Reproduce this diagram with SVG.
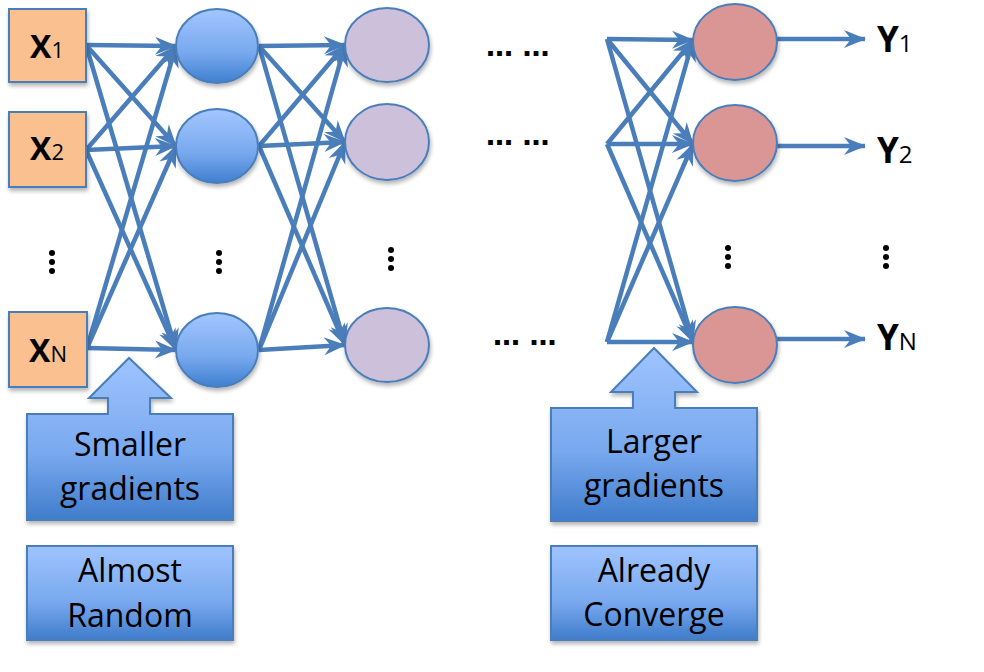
<svg xmlns="http://www.w3.org/2000/svg" width="984" height="672" viewBox="0 0 984 672">
<defs>
<linearGradient id="gBlue" x1="0" y1="0" x2="0" y2="1">
<stop offset="0" stop-color="#a3c6ff"/><stop offset="0.6" stop-color="#77a8ee"/><stop offset="1" stop-color="#3f7fcf"/>
</linearGradient>
<linearGradient id="gBox" x1="0" y1="0" x2="0" y2="1">
<stop offset="0" stop-color="#9fc4ff"/><stop offset="0.6" stop-color="#78a8ee"/><stop offset="1" stop-color="#3f7ccb"/>
</linearGradient>
<filter id="sh" x="-10%" y="-10%" width="130%" height="130%">
<feGaussianBlur in="SourceAlpha" stdDeviation="2"/><feOffset dx="1" dy="3"/>
<feComponentTransfer><feFuncA type="linear" slope="0.3"/></feComponentTransfer>
<feMerge><feMergeNode/><feMergeNode in="SourceGraphic"/></feMerge>
</filter>
<marker id="arr" viewBox="0 0 24 20" markerUnits="userSpaceOnUse" markerWidth="24" markerHeight="20" refX="21" refY="10" orient="auto" overflow="visible">
<path d="M0,1 L22,10 L0,19 L7,10 Z" fill="#4a7ebb"/>
</marker>
</defs>
<style>
.box{stroke:#4a7ebb;stroke-width:2;}
.in{fill:#fac090;}
.h1{fill:url(#gBlue);}
.h2{fill:#ccc0da;}
.h3{fill:#d99694;}
.lbl{font-family:"Open Sans","Liberation Sans",sans-serif;font-weight:bold;fill:#000;}
.sub{font-weight:normal;}
.t{font-family:"Open Sans","Liberation Sans",sans-serif;font-size:32px;fill:#000;text-anchor:middle;}
.dots{font-family:"DejaVu Sans",sans-serif;font-weight:bold;font-size:27px;fill:#000;}
.vd{fill:#000;}
</style>

<g id="connectors" fill="none" stroke="#4a7ebb" stroke-width="4.5" marker-end="url(#arr)">
<path d="M86,45 L176,46"/>
<path d="M86,45 L176,146"/>
<path d="M86,45 L176,350"/>
<path d="M86,150 L176,46"/>
<path d="M86,150 L176,146"/>
<path d="M86,150 L176,350"/>
<path d="M87,348 L176,46"/>
<path d="M87,348 L176,146"/>
<path d="M87,348 L176,350"/>

<path d="M259,46 L345,45"/>
<path d="M259,46 L345,142"/>
<path d="M259,46 L345,345"/>
<path d="M259,146 L345,45"/>
<path d="M259,146 L345,142"/>
<path d="M259,146 L345,345"/>
<path d="M259,350 L345,45"/>
<path d="M259,350 L345,142"/>
<path d="M259,350 L345,345"/>

<path d="M607,39 L693,40"/>
<path d="M607,39 L693,144"/>
<path d="M607,39 L693,342"/>
<path d="M607,144 L693,40"/>
<path d="M607,144 L693,144"/>
<path d="M607,144 L693,342"/>
<path d="M607,342 L693,40"/>
<path d="M607,342 L693,144"/>
<path d="M607,342 L693,342"/>

<path d="M777,39 L865,39"/>
<path d="M777,146 L865,146"/>
<path d="M777,339 L865,339"/>
</g>

<g id="x1"><rect class="box in" x="9" y="9" width="77" height="73" filter="url(#sh)"/>
<text class="lbl" x="47" y="58" font-size="32" text-anchor="middle">X<tspan class="sub" font-size="22">1</tspan></text></g>
<g id="x2"><rect class="box in" x="9" y="112" width="77" height="75" filter="url(#sh)"/>
<text class="lbl" x="47" y="160" font-size="32" text-anchor="middle">X<tspan class="sub" font-size="22">2</tspan></text></g>
<g id="xn"><rect class="box in" x="9" y="312" width="78" height="75" filter="url(#sh)"/>
<text class="lbl" x="48" y="362" font-size="32" text-anchor="middle">X<tspan class="sub" font-size="22">N</tspan></text></g>

<g id="h1a"><ellipse class="box h1" cx="217" cy="46" rx="41" ry="37" filter="url(#sh)"/></g>
<g id="h1b"><ellipse class="box h1" cx="217" cy="146" rx="41" ry="37" filter="url(#sh)"/></g>
<g id="h1n"><ellipse class="box h1" cx="217" cy="350" rx="41" ry="37" filter="url(#sh)"/></g>

<g id="h2a"><ellipse class="box h2" cx="387" cy="45" rx="42" ry="37" filter="url(#sh)"/></g>
<g id="h2b"><ellipse class="box h2" cx="387" cy="142" rx="42" ry="38" filter="url(#sh)"/></g>
<g id="h2n"><ellipse class="box h2" cx="387" cy="345" rx="42" ry="37" filter="url(#sh)"/></g>

<g id="oa"><ellipse class="box h3" cx="735" cy="42" rx="42" ry="38" filter="url(#sh)"/></g>
<g id="ob"><ellipse class="box h3" cx="735" cy="143" rx="42" ry="38" filter="url(#sh)"/></g>
<g id="on"><ellipse class="box h3" cx="735" cy="345" rx="42" ry="38" filter="url(#sh)"/></g>

<g id="y1"><text class="lbl" x="877" y="52" font-size="35">Y<tspan class="sub" font-size="24">1</tspan></text></g>
<g id="y2"><text class="lbl" x="877" y="163" font-size="35">Y<tspan class="sub" font-size="24">2</tspan></text></g>
<g id="yn"><text class="lbl" x="877" y="350" font-size="35">Y<tspan class="sub" font-size="24">N</tspan></text></g>

<g id="hdots">
<text class="dots" x="486" y="56">… …</text>
<text class="dots" x="486" y="145">… …</text>
<text class="dots" x="493" y="345">… …</text>
</g>

<g id="vdots">
<circle class="vd" cx="52" cy="253" r="3"/><circle class="vd" cx="52" cy="262" r="3"/><circle class="vd" cx="52" cy="271" r="3"/>
<circle class="vd" cx="219" cy="253" r="3"/><circle class="vd" cx="219" cy="262" r="3"/><circle class="vd" cx="219" cy="271" r="3"/>
<circle class="vd" cx="391" cy="250" r="3"/><circle class="vd" cx="391" cy="259" r="3"/><circle class="vd" cx="391" cy="268" r="3"/>
<circle class="vd" cx="728" cy="248" r="3"/><circle class="vd" cx="728" cy="257" r="3"/><circle class="vd" cx="728" cy="266" r="3"/>
<circle class="vd" cx="886" cy="248" r="3"/><circle class="vd" cx="886" cy="257" r="3"/><circle class="vd" cx="886" cy="266" r="3"/>
</g>

<g id="smaller">
<path class="box" fill="url(#gBox)" filter="url(#sh)" d="M27,414 H108 V398 H89 L129,358 L171,398 H150 V414 H233 V520 H27 Z"/>
<text class="t" x="130" y="456">Smaller</text>
<text class="t" x="130" y="500">gradients</text>
</g>
<g id="random">
<rect class="box" fill="url(#gBox)" filter="url(#sh)" x="27" y="546" width="206" height="94"/>
<text class="t" x="130" y="582">Almost</text>
<text class="t" x="130" y="627">Random</text>
</g>
<g id="larger">
<path class="box" fill="url(#gBox)" filter="url(#sh)" d="M551,408 H633 V392 H611 L654,348 L697,392 H675 V408 H757 V521 H551 Z"/>
<text class="t" x="654" y="453">Larger</text>
<text class="t" x="654" y="497">gradients</text>
</g>
<g id="converge">
<rect class="box" fill="url(#gBox)" filter="url(#sh)" x="551" y="546" width="206" height="94"/>
<text class="t" x="654" y="582">Already</text>
<text class="t" x="654" y="626">Converge</text>
</g>
</svg>
